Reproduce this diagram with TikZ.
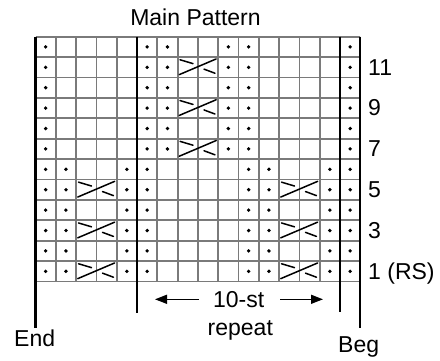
\documentclass[tikz,border=0pt]{standalone}
\usepackage{fontspec}
\setmainfont{Liberation Sans}
\usetikzlibrary{arrows.meta}
\definecolor{gridgray}{HTML}{7A7A7A}
\begin{document}
\begin{tikzpicture}[x=1pt,y=-1pt,
  gridline/.style={draw=gridgray,line width=1.8pt},
  bar/.style={draw=black,line width=2.3pt},
  stdot/.style={fill=black},
  cableline/.style={draw=black,line width=1.5pt,line cap=round},
  lbl/.style={font=\fontsize{23}{27}\selectfont,inner sep=0pt},
  arr/.style={line width=1.4pt,-{Triangle[length=12pt,width=9pt]}}
]
\fill[white] (0,0) rectangle (440,360);
\useasboundingbox (0,0) rectangle (440,360);
\def\xo{35.5}\def\yo{36.7}\def\cw{20.3}\def\ch{20.4}
% grid
\foreach \i in {0,...,12} \draw[gridline] (\xo, \yo+\i*\ch) -- (\xo+16*\cw, \yo+\i*\ch);
\foreach \j in {0,...,16} \draw[gridline] (\xo+\j*\cw, \yo) -- (\xo+\j*\cw, \yo+12*\ch);
% thick bars
\coordinate (b1t) at (\xo,\yo);           \coordinate (b1b) at (\xo,328);
\coordinate (b2t) at (\xo+5*\cw,\yo);     \coordinate (b2b) at (\xo+5*\cw,313);
\coordinate (b3t) at (\xo+15*\cw,\yo);    \coordinate (b3b) at (\xo+15*\cw,312);
\coordinate (b4t) at (\xo+16*\cw,\yo);    \coordinate (b4b) at (\xo+16*\cw,328);
\draw[bar] (b1t) -- (b1b);
\draw[bar] (b2t) -- (b2b);
\draw[bar] (b3t) -- (b3b);
\draw[bar] (b4t) -- (b4b);
% dots: upper rows
\foreach \r in {7,...,12}
  \foreach \c in {1,6,7,10,11,16}
    \fill[stdot] (\xo+\c*\cw-0.5*\cw, \yo+12*\ch-\r*\ch+0.5*\ch) circle (1.9);
% dots: lower rows
\foreach \r in {1,...,6}
  \foreach \c in {1,2,5,6,11,12,15,16}
    \fill[stdot] (\xo+\c*\cw-0.5*\cw, \yo+12*\ch-\r*\ch+0.5*\ch) circle (1.9);
% cables
\foreach \r/\c in {7/8,9/8,11/8,1/3,3/3,5/3,1/13,3/13,5/13}{
  \begin{scope}[shift={(\xo+\c*\cw-\cw, \yo+12*\ch-\r*\ch+\ch)}, x=2*\cw pt, y=\ch pt]
    \draw[cableline] (0.04,0.14) -- (0.95,0.91);
    \draw[cableline] (0.06,0.87) -- (0.38,0.68);
    \draw[cableline] (0.65,0.41) -- (0.92,0.21);
  \end{scope}
}
% texts
\node[lbl,anchor=base] (title) at (195.5,25) {Main Pattern};
\node[lbl,anchor=base west] (r11) at (368,\yo+1.5*\ch+7.8) {11};
\node[lbl,anchor=base west] (r9) at (368,\yo+3.5*\ch+7.8) {9};
\node[lbl,anchor=base west] (r7) at (368,\yo+5.5*\ch+7.8) {7};
\node[lbl,anchor=base west] (r5) at (368,\yo+7.5*\ch+7.8) {5};
\node[lbl,anchor=base west] (r3) at (368,\yo+9.5*\ch+7.8) {3};
\node[lbl,anchor=base west] (r1) at (368,\yo+11.5*\ch+7.8) {1 (RS)};
\node[lbl,anchor=base west] (endl) at (14,346) {End};
\node[lbl,anchor=base west] (begl) at (338,352) {Beg};
\node[lbl,anchor=base] (tenst) at (238.7,307) {10-st};
\node[lbl,anchor=base] (rep) at (240.3,335) {repeat};
% arrows
\coordinate (la1) at (199,299.3); \coordinate (la2) at (155,299.3);
\coordinate (ra1) at (280,299.3); \coordinate (ra2) at (323,299.3);
\draw[arr] (la1) -- (la2);
\draw[arr] (ra1) -- (ra2);
\end{tikzpicture}
\end{document}
